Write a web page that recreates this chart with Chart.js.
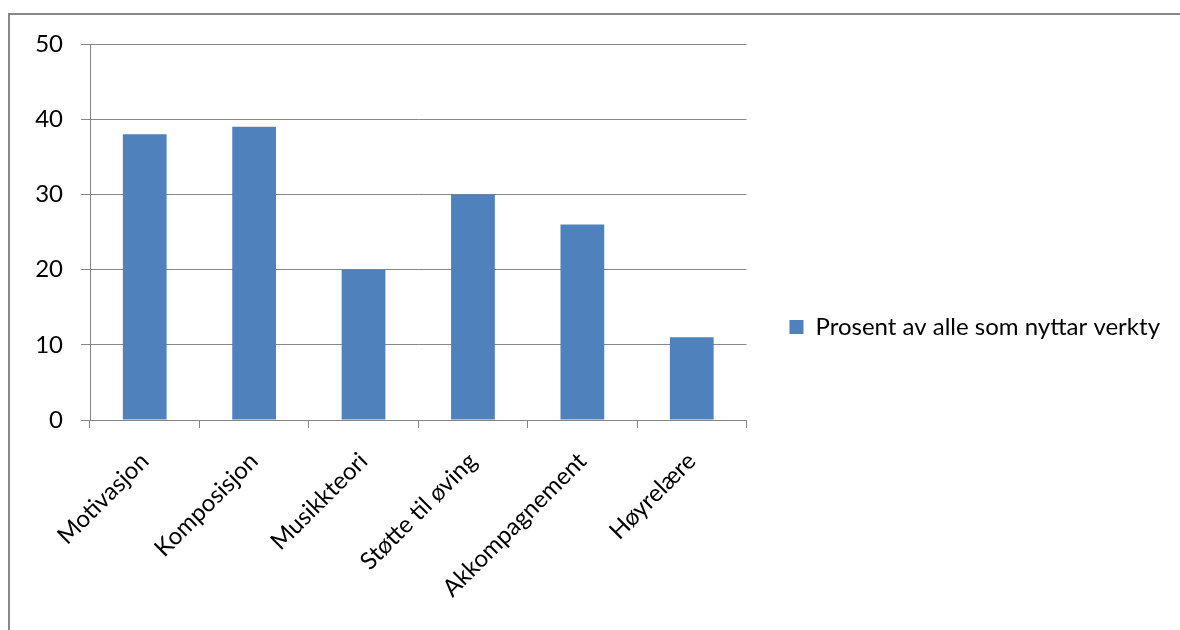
<!DOCTYPE html>
<html>
<head>
<meta charset="utf-8">
<script src="https://cdn.jsdelivr.net/npm/chart.js@4/dist/chart.umd.min.js"></script>
<style>
  html, body { margin: 0; padding: 0; background: #fff; overflow: hidden; }
  #wrap { position: relative; width: 1180px; height: 630px; }
  #frame {
    position: absolute; left: 8px; top: 13px; width: 1300px; height: 800px;
    border: 2px solid #878787; pointer-events: none;
  }
</style>
</head>
<body>
<div id="wrap">
  <canvas id="chart"></canvas>
  <div id="frame"></div>
</div>
<script>
// kategoriar og verdiar
const kategoriar = ['Motivasjon', 'Komposisjon', 'Musikkteori', 'Støtte til øving', 'Akkompagnement', 'Høyrelære'];
const prosent = [38, 39, 20, 30, 26, 11];
const serieNamn = 'Prosent av alle som nyttar verkty';
const yTicks = [0, 10, 20, 30, 40, 50];

const FONT = 'Lato';
const FONT_SIZE = 24;
const GRID = '#878787';

// forklaringa får vere breiare enn halve lerretet
const breiForklaring = {
    id: 'breiForklaring',
    beforeLayout(chart) {
        const lg = chart.legend;
        if (lg && !lg._brei) {
            const fit = lg.fit.bind(lg);
            lg.fit = () => { lg.maxWidth = 480; fit(); };
            lg._brei = true;
        }
    },
};

const ctx = document.getElementById('chart').getContext('2d');

new Chart(ctx, {
    type: 'bar',
    data: {
        labels: kategoriar,
        datasets: [{
            label: serieNamn,
            data: prosent,
            backgroundColor: '#4f81bd',
            borderWidth: 0,
            categoryPercentage: 1,
            barPercentage: 0.4,
        }],
    },
    plugins: [breiForklaring],
    options: {
        responsive: true,
        maintainAspectRatio: false,
        animation: false,
        layout: { padding: { top: 44, right: 10, bottom: 20, left: 0 } },
        plugins: {
            tooltip: { enabled: false },
            legend: {
                position: 'right',
                labels: {
                    boxWidth: 14,
                    boxHeight: 14,
                    padding: 43,
                    color: '#000',
                    font: { family: FONT, size: FONT_SIZE },
                },
            },
        },
        scales: {
            x: {
                grid: {
                    offset: true,
                    drawOnChartArea: false,
                    color: GRID,
                    tickLength: 8,
                },
                border: { color: GRID, width: 1 },
                ticks: {
                    color: '#000',
                    font: { family: FONT, size: FONT_SIZE },
                    minRotation: 45,
                    maxRotation: 45,
                    padding: 19,
                },
                afterFit: (scale) => { scale.height = 190; },
            },
            y: {
                min: 0,
                max: 50,
                afterBuildTicks: (scale) => { scale.ticks = yTicks.map(v => ({ value: v })); },
                grid: { color: GRID, tickLength: 9 },
                border: { color: GRID, width: 1 },
                ticks: {
                    color: '#000',
                    padding: 18,
                    font: { family: FONT, size: FONT_SIZE },
                },
                afterFit: (scale) => { scale.width = 90; },
            },
        },
    },
});
</script>
</body>
</html>
